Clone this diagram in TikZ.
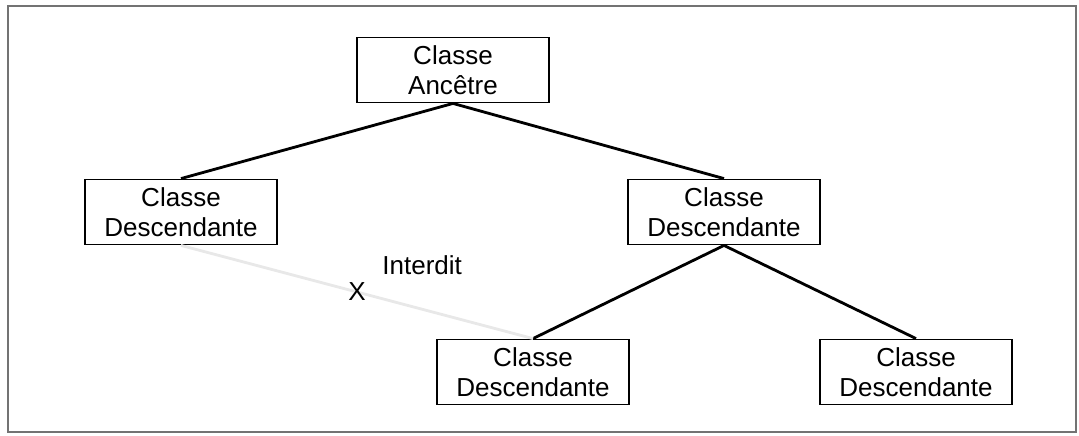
\documentclass[tikz,border=0pt]{standalone}
\usepackage{fontspec}
\setmainfont{Liberation Sans}
\usetikzlibrary{positioning}

\begin{document}
\begin{tikzpicture}[x=0.025cm, y=-0.025cm,
  classe/.style={draw, line width=1.3pt, minimum width=4.8cm, minimum height=1.625cm,
    align=center, inner sep=1pt, font=\fontsize{18.5}{21.5}\selectfont},
  lien/.style={line width=2pt},
  interdit/.style={line width=2pt, black!9}]
\useasboundingbox (0,0) rectangle (1079,435);
\draw[black!55, line width=1.3pt] (8,6) rectangle (1076,432);

\node[classe] (anc) at (453,70) {Classe\\Ancêtre};
\node[classe] (g) at (181,212) {Classe\\Descendante};
\node[classe] (d) at (724,212) {Classe\\Descendante};
\node[classe] (dg) at (533,372) {Classe\\Descendante};
\node[classe] (dd) at (916,372) {Classe\\Descendante};

\draw[lien] (anc.south) -- (g.north);
\draw[lien] (anc.south) -- (d.north);
\draw[lien] (d.south) -- (dg.north);
\draw[lien] (d.south) -- (dd.north);

% lien interdit
\draw[interdit] (g.south) -- node[pos=0.5, text=black, font=\fontsize{18.5}{21.5}\selectfont] (x) {X} (dg.north);
\node[font=\fontsize{18.5}{21.5}\selectfont, above right=-2pt and 4pt of x] {Interdit};
\end{tikzpicture}
\end{document}
